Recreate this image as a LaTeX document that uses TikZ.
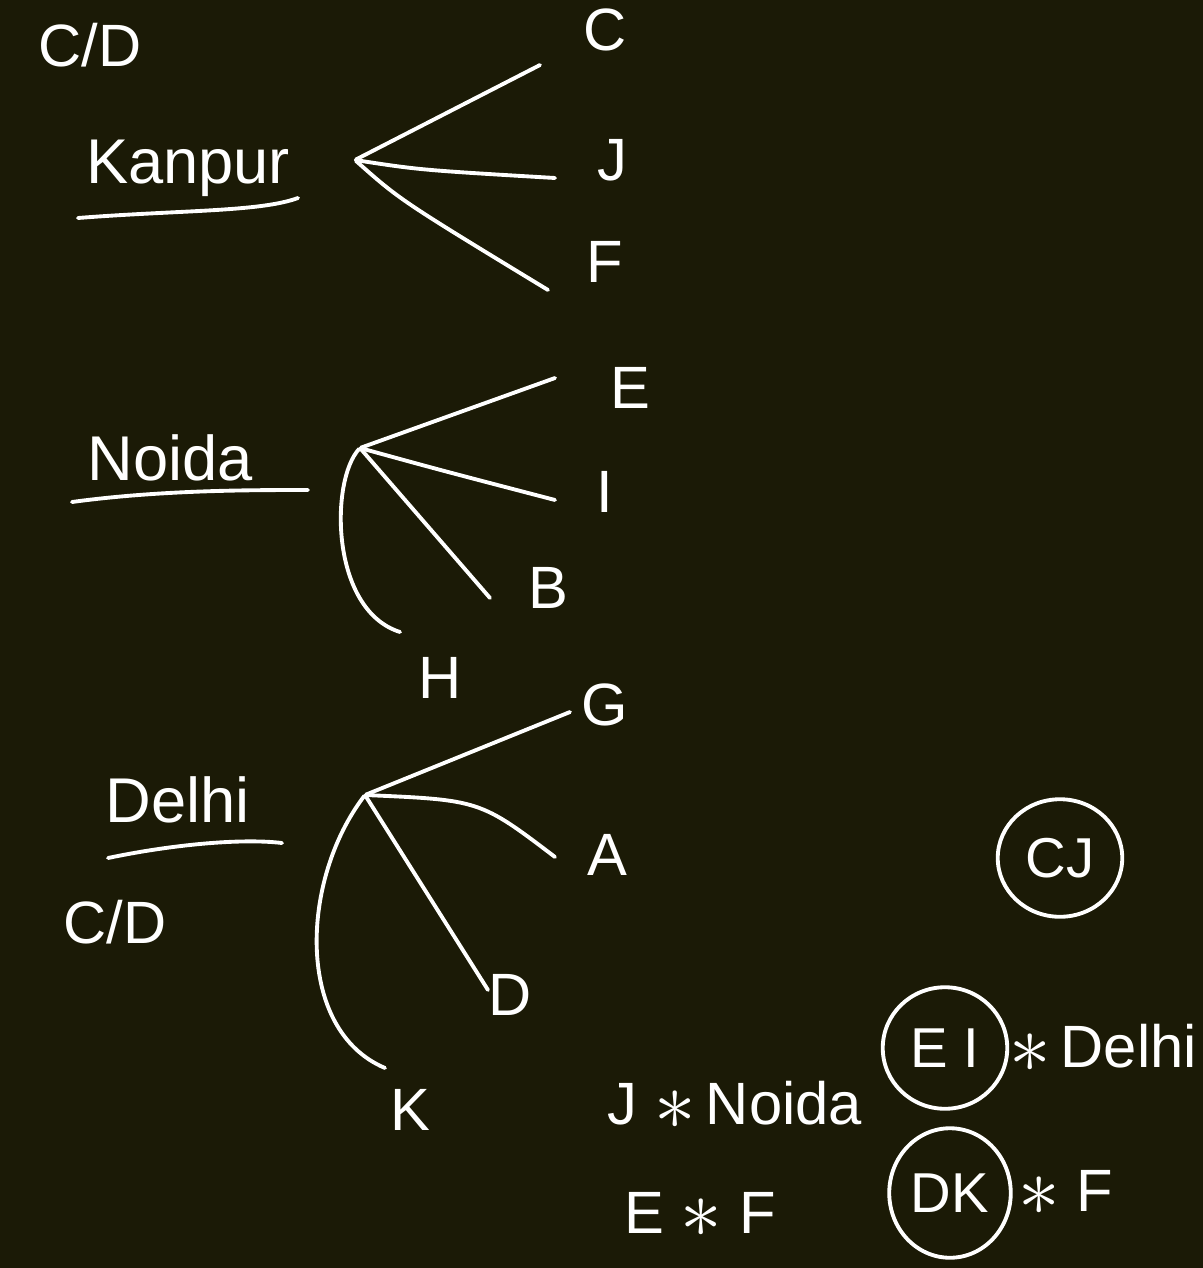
\documentclass[tikz,border=0pt]{standalone}
\usepackage{fontspec}
\setmainfont{Liberation Sans}
\usetikzlibrary{arrows.meta, positioning, shapes.geometric, calc}
\definecolor{cboard}{HTML}{1B1A06}
\definecolor{cchalk}{HTML}{FFFFFF}
\newcommand{\timesmark}{\raisebox{-0.15ex}{\scalebox{1.9}{$\ast$}}}
\tikzset{
  every picture/.style={line width=2.2pt, line cap=round},
  letter/.style={text=cchalk, font=\fontsize{34}{40}\selectfont, inner sep=2pt},
  city/.style={text=cchalk, font=\fontsize{36}{42}\selectfont, inner sep=2pt},
  hub/.style={inner sep=0pt, outer sep=0pt},
  branch/.style={draw=cchalk},
  rule/.style={draw=cchalk},
  ring/.style={draw=cchalk, ellipse, text=cchalk, font=\fontsize{32}{38}\selectfont, inner sep=0pt},
}

\begin{document}
\begin{tikzpicture}[x=0.02cm, y=-0.02cm]
  \fill[cboard] (0,0) rectangle (1203,1268);
  \useasboundingbox (0,0) rectangle (1203,1268);
  % Kanpur
  \node[letter] (cdtop) at (90,45) {C/D};
  \node[city] (kanpur) at (188,168) {Kanpur};
  \draw[rule] (78,218) .. controls (180,210) and (260,212) .. (298,198);
  \node[hub] (hk) at (355,160) {};
  \node[letter] (lc) at (605,30) {C};
  \node[letter] (lj) at (612,160) {J};
  \node[letter] (lf) at (605,262) {F};
  \coordinate (tc) at (540,65);
  \coordinate (tj) at (555,178);
  \coordinate (tf) at (548,290);
  \draw[branch] (hk) -- (tc);
  \draw[branch] (hk) .. controls (420,170) .. (tj);
  \draw[branch] (hk) .. controls (400,200) .. (tf);
  % Noida
  \node[city] (noida) at (170,458) {Noida};
  \draw[rule] (72,502) .. controls (160,490) and (250,490) .. (308,490);
  \node[hub] (hn) at (360,448) {};
  \node[letter] (le) at (630,388) {E};
  \node[letter] (li) at (605,492) {I};
  \node[letter] (lb) at (548,588) {B};
  \node[letter] (lh) at (440,678) {H};
  \coordinate (te) at (555,378);
  \coordinate (ti) at (555,500);
  \coordinate (tb) at (490,598);
  \coordinate (hend) at (400,632);
  \draw[branch] (hn) -- (te);
  \draw[branch] (hn) .. controls (440,470) .. (ti);
  \draw[branch] (hn) -- (tb);
  \draw[rule] (hn) .. controls (330,480) and (330,610) .. (hend);
  % Delhi
  \node[city] (delhi) at (178,800) {Delhi};
  \draw[rule] (108,858) .. controls (170,845) and (240,838) .. (282,843);
  \node[letter] (cdlow) at (115,922) {C/D};
  \node[hub] (hd) at (365,795) {};
  \node[letter] (lg) at (605,705) {G};
  \node[letter] (la) at (607,855) {A};
  \node[letter] (ld) at (510,995) {D};
  \node[letter] (lk) at (410,1110) {K};
  \coordinate (tg) at (570,712);
  \coordinate (ta) at (555,857);
  \coordinate (td) at (488,990);
  \coordinate (kend) at (385,1068);
  \draw[branch] (hd) -- (tg);
  \draw[branch] (hd) .. controls (480,800) .. (ta);
  \draw[branch] (hd) -- (td);
  \draw[rule] (hd) .. controls (300,880) and (295,1030) .. (kend);
  % groups
  \node[ring, minimum width=125*0.567pt, minimum height=118*0.567pt] (rcj) at (1060,858) {CJ};
  \node[ring, minimum width=125*0.567pt, minimum height=122*0.567pt] (rei) at (945,1048) {E I};
  \node[ring, minimum width=122*0.567pt, minimum height=130*0.567pt] (rdk) at (950,1193) {DK};
  \node[letter, right=-3pt of rei] (xdelhi) {\timesmark\,Delhi};
  \node[letter, right=0pt of rdk] (xf) {\timesmark\ F};
  \node[letter] (jnoida) at (735,1105) {J \timesmark\,Noida};
  \node[letter] (ef) at (700,1215) {E \timesmark\ F};
\end{tikzpicture}
\end{document}
